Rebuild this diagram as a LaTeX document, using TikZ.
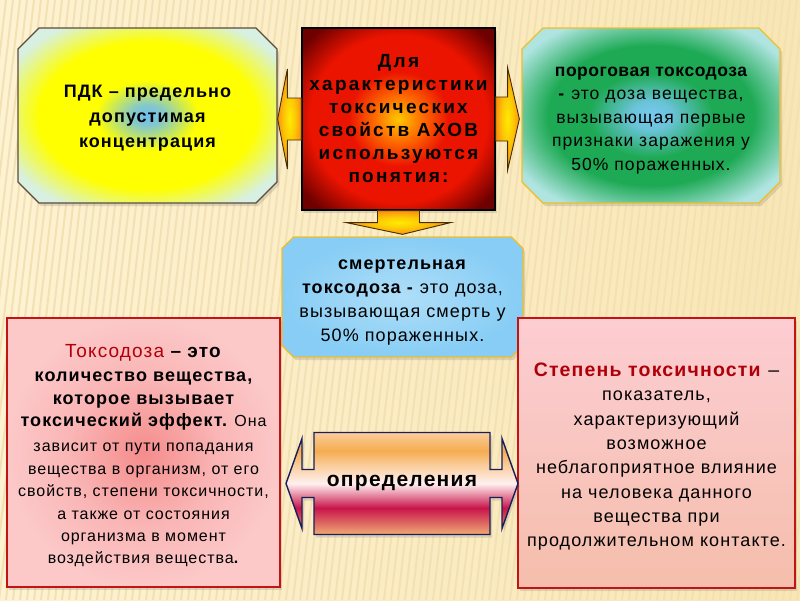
\documentclass[tikz,border=0pt]{standalone}
\usepackage{fontspec}
\setmainfont{Liberation Sans}[LetterSpace=6]
\usetikzlibrary{positioning,calc,shapes.misc,shadows}
\definecolor{CreamLeft}{RGB}{253,242,210}
\definecolor{CreamRight}{RGB}{248,230,180}
\definecolor{Stripe}{RGB}{243,225,180}
\definecolor{PdkBlue}{RGB}{110,190,240}
\definecolor{PdkPale}{RGB}{215,240,225}
\definecolor{PdkEdge}{RGB}{95,75,60}
\definecolor{IdeaCore}{RGB}{255,200,0}
\definecolor{IdeaOrange}{RGB}{255,110,0}
\definecolor{IdeaRed}{RGB}{235,20,0}
\definecolor{IdeaDark}{RGB}{110,0,0}
\definecolor{PoroBlue}{RGB}{120,200,240}
\definecolor{PoroGreen}{RGB}{30,170,85}
\definecolor{PoroPale}{RGB}{175,228,225}
\definecolor{GoldEdge}{RGB}{240,190,40}
\definecolor{SkyCore}{RGB}{175,222,248}
\definecolor{SkyEdge}{RGB}{135,205,245}
\definecolor{PinkCore}{RGB}{245,140,140}
\definecolor{PinkEdge}{RGB}{252,200,200}
\definecolor{PinkTop}{RGB}{252,205,210}
\definecolor{PeachBottom}{RGB}{245,190,172}
\definecolor{BoxRed}{RGB}{195,20,20}
\definecolor{TextRed}{RGB}{175,0,10}
\definecolor{ArrowCore}{RGB}{255,235,0}
\definecolor{ArrowEdge}{RGB}{250,145,15}
\definecolor{ArrowLine}{RGB}{70,45,0}
\definecolor{DefsOrange}{RGB}{245,172,80}
\definecolor{DefsLight}{RGB}{250,205,155}
\definecolor{DefsWhite}{RGB}{255,240,240}
\definecolor{DefsCrimson}{RGB}{200,20,75}
\definecolor{DefsBottom}{RGB}{240,170,115}
\definecolor{DefsNavy}{RGB}{25,30,90}
\pgfdeclareradialshading{pdkshade}{\pgfpoint{0bp}{0bp}}{color(0bp)=(PdkBlue); color(3bp)=(PdkBlue!85!yellow); color(10bp)=(yellow); color(21bp)=(yellow); color(30bp)=(PdkPale); color(40bp)=(PdkPale)}
\pgfdeclareradialshading{ideashade}{\pgfpoint{0bp}{0bp}}{color(0bp)=(IdeaCore); color(6bp)=(IdeaOrange); color(13bp)=(IdeaRed); color(23bp)=(IdeaRed); color(32bp)=(IdeaDark); color(40bp)=(IdeaDark)}
\pgfdeclareradialshading{poroshade}{\pgfpoint{0bp}{0bp}}{color(0bp)=(PoroBlue); color(4bp)=(PoroBlue!85!PoroGreen); color(12bp)=(PoroGreen); color(20bp)=(PoroGreen); color(30bp)=(PoroPale); color(40bp)=(PoroPale)}
\pgfdeclareradialshading{skyshade}{\pgfpoint{0bp}{0bp}}{color(0bp)=(SkyCore); color(25bp)=(SkyEdge); color(40bp)=(SkyEdge)}
\pgfdeclareradialshading{pinkshade}{\pgfpoint{0bp}{0bp}}{color(0bp)=(PinkCore); color(14bp)=(PinkEdge!70!PinkCore); color(25bp)=(PinkEdge); color(40bp)=(PinkEdge)}
\pgfdeclareradialshading{arrowshade}{\pgfpoint{0bp}{0bp}}{color(0bp)=(ArrowCore); color(12bp)=(ArrowCore!60!ArrowEdge); color(25bp)=(ArrowEdge); color(40bp)=(ArrowEdge)}
\pgfdeclareverticalshading{defsshade}{100bp}{color(0bp)=(DefsBottom); color(25bp)=(DefsBottom); color(38bp)=(DefsCrimson); color(50bp)=(DefsWhite); color(59bp)=(DefsLight); color(66bp)=(DefsOrange); color(75bp)=(DefsLight); color(100bp)=(DefsLight)}
\newcommand\plainhd[1]{{\addfontfeatures{LetterSpace=3}\bfseries #1}}
\tikzset{
  stripe/.style={draw=Stripe,line width=2pt},
  shadowed/.style={drop shadow={opacity=0.25,shadow xshift=2pt,shadow yshift=-3pt}},
  octbox/.style={chamfered rectangle,chamfered rectangle xsep=10.5pt,
    chamfered rectangle ysep=10.5pt,inner sep=0pt,align=center,line width=1.3pt,shadowed},
  pdkbox/.style={octbox,draw=PdkEdge,shade,shading=pdkshade,
    font=\fontsize{18}{25}\selectfont\bfseries},
  ideabox/.style={rectangle,draw=black,line width=1.3pt,shade,shading=ideashade,
    align=center,inner sep=0pt,shadowed,
    font=\fontsize{19}{23}\selectfont\bfseries\addfontfeatures{LetterSpace=12}},
  porobox/.style={octbox,draw=GoldEdge,shade,shading=poroshade,
    font=\fontsize{17.5}{23.5}\selectfont},
  lethalbox/.style={octbox,chamfered rectangle xsep=5.5pt,chamfered rectangle ysep=6pt,
    draw=GoldEdge,shade,shading=skyshade,font=\fontsize{18}{24}\selectfont},
  toxobox/.style={rectangle,draw=BoxRed,line width=1.8pt,shade,shading=pinkshade,
    align=center,inner sep=0pt,shadowed,font=\fontsize{16}{22.4}\selectfont},
  degreebox/.style={rectangle,draw=BoxRed,line width=1.8pt,top color=PinkTop,
    bottom color=PeachBottom,align=center,inner sep=0pt,shadowed,
    font=\fontsize{18}{24.3}\selectfont},
  blockarrow/.style={draw=ArrowLine,line width=0.9pt,shading=arrowshade,line join=miter},
  defsarrow/.style={draw=DefsNavy,line width=1.4pt,shading=defsshade,line join=miter,
    drop shadow={opacity=0.25,shadow xshift=2pt,shadow yshift=-3pt}},
  defstext/.style={font=\fontsize{21}{25}\selectfont\bfseries,inner sep=0pt}
}
\begin{document}
\begin{tikzpicture}[x=1pt,y=-1pt]
  \useasboundingbox (0,0) rectangle (800,600);
  \shade[left color=CreamLeft,right color=CreamRight] (0,0) rectangle (800,600);
  \begin{scope}
    \clip (0,0) rectangle (800,600);
    \foreach \x in {-120,-113,...,800}
      \draw[stripe] (\x,600) -- ++(70,-600);
  \end{scope}

  % top row
  \node[pdkbox,minimum width=259pt,minimum height=175pt] (pdk) at (147.5,115.5)
    {\rule{0pt}{18pt}ПДК – предельно\\допустимая\\концентрация};
  \node[ideabox,minimum width=193pt,minimum height=182pt] (idea) at (398.5,119)
    {Для\\характеристики\\токсических\\свойств АХОВ\\используются\\понятия:};
  \node[porobox,minimum width=258pt,minimum height=175pt] (poro) at (651,115.5)
    {\rule{0pt}{19pt}\plainhd{пороговая токсодоза}\\\textbf{-} это доза вещества,\\вызывающая первые\\признаки заражения у\\50\% пораженных.};
  \node[lethalbox,minimum width=241pt,minimum height=120pt] (lethal) at (402.5,297)
    {\rule{0pt}{20pt}\textbf{смертельная}\\\textbf{токсодоза -} это доза,\\вызывающая смерть у\\50\% пораженных.};

  % block arrows out of the centre box
  \shadedraw[blockarrow] ($(idea.west)+(0,-21)$) -- ++(-14,0) -- ++(0,-29)
    -- (pdk.east |- idea.west) -- ($(idea.west)+(-14,50)$) -- ++(0,-29) -- ++(14,0) -- cycle;
  \shadedraw[blockarrow] ($(idea.east)+(0,-22)$) -- ++(12,0) -- ++(0,-29)
    -- ($(poro.west |- idea.east)+(-2,0)$) -- ($(idea.east)+(12,51)$) -- ++(0,-29) -- ++(-12,0) -- cycle;
  \shadedraw[blockarrow] ($(idea.south)+(-21,0)$) -- ++(0,12) -- ++(-31,0)
    -- ($(lethal.north)+(0,-2)$) -- ($(idea.south)+(52,12)$) -- ++(-31,0) -- ++(0,-12) -- cycle;

  % bottom row
  \node[toxobox,minimum width=273pt,minimum height=269pt] (toxo) at (143.5,452.5)
    {\rule{0pt}{20pt}{\fontsize{19}{23}\selectfont\textcolor{TextRed}{Токсодоза} \textbf{– это}}\\[1.5pt]
     {\fontsize{18}{23}\selectfont\bfseries количество вещества,}\\
     {\fontsize{18}{23}\selectfont\bfseries которое вызывает}\\
     {\fontsize{18}{23}\selectfont\bfseries токсический эффект.} Она\\[3pt]
     зависит от пути попадания\\вещества в организм, от его\\свойств, степени токсичности,\\а также от состояния\\организма в момент\\воздействия вещества\textbf{.}};
  \node[degreebox,minimum width=277pt,minimum height=270pt] (degree) at (656.5,453)
    {\rule{0pt}{21pt}{\fontsize{19.5}{24}\selectfont\textcolor{TextRed}{\textbf{Степень токсичности}} –}\\показатель,\\характеризующий\\возможное\\неблагоприятное влияние\\на человека данного\\вещества при\\продолжительном контакте.};

  % double arrow between the definitions
  \begin{scope}[shift={(402,483.5)}]
    \shadedraw[defsarrow] (-88,-51) -- (88,-51) -- (88,-14) -- (100,-14) -- (100,-45)
      -- (116,0) -- (100,45) -- (100,14) -- (88,14) -- (88,51) -- (-88,51) -- (-88,14)
      -- (-100,14) -- (-100,45) -- (-116,0) -- (-100,-45) -- (-100,-14) -- (-88,-14) -- cycle;
    \node[defstext] (defs) at (0,0) {определения};
  \end{scope}
\end{tikzpicture}
\end{document}
